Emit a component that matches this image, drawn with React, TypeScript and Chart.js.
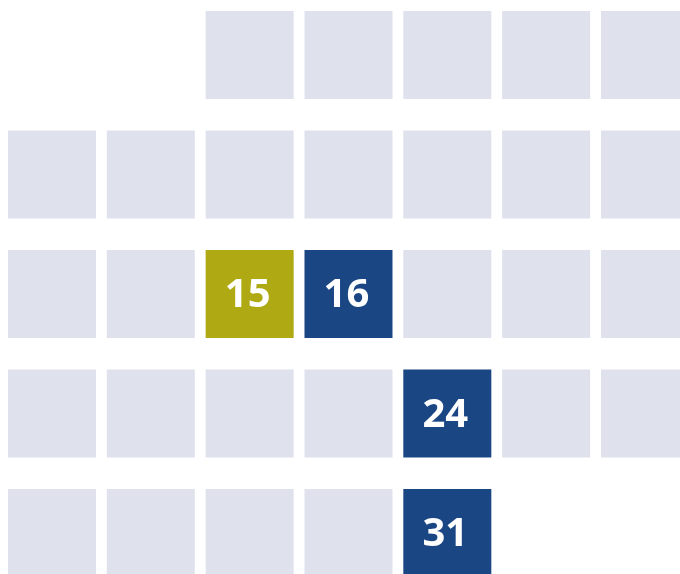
import React, { useEffect, useRef } from "react";
import { Chart, registerables } from "chart.js";

Chart.register(...registerables);

// Calendar month: 31 days, first day falls on the 3rd column
const days: number[] = Array.from({ length: 31 }, (_, i) => i + 1);
const firstWeekdayOffset = 2;
const highlightDays: number[] = [15, 16, 24, 31];
const highlightColors: string[] = ["#afa914", "#1a4683", "#1a4683", "#1a4683"];
const baseColor = "#dfe2ed";

const COLS = 7;

export default function App() {
  const ref = useRef<HTMLCanvasElement | null>(null);

  useEffect(() => {
    if (!ref.current) return;
    document.documentElement.style.overflow = "hidden";
    const points = days.map((d) => {
      const idx = d - 1 + firstWeekdayOffset;
      return { x: idx % COLS, y: Math.floor(idx / COLS), day: d };
    });
    const colors = days.map((d) => {
      const k = highlightDays.indexOf(d);
      return k >= 0 ? highlightColors[k] : baseColor;
    });

    const labelPlugin = {
      id: "dayLabels",
      afterDatasetsDraw(chart: any) {
        const ctx = chart.ctx;
        const meta = chart.getDatasetMeta(0);
        ctx.save();
        ctx.fillStyle = "#ffffff";
        ctx.font = "bold 40px 'Noto Sans', 'Open Sans', sans-serif";
        ctx.textAlign = "center";
        ctx.textBaseline = "middle";
        meta.data.forEach((el: any, i: number) => {
          const d = days[i];
          if (highlightDays.indexOf(d) >= 0) {
            ctx.fillText(String(d), el.x - 2, el.y + 2);
          }
        });
        ctx.restore();
      },
    };

    const side = 88;
    const radius = side / Math.SQRT2;

    const chart = new Chart(ref.current, {
      type: "scatter",
      data: {
        datasets: [
          {
            data: points,
            pointStyle: "rect",
            pointRadius: radius,
            pointHoverRadius: radius,
            pointBackgroundColor: colors,
            pointHoverBackgroundColor: colors,
            pointBorderWidth: 0,
            pointHoverBorderWidth: 0,
            borderWidth: 0,
            clip: false,
          } as any,
        ],
      },
      options: {
        animation: false,
        responsive: false,
        devicePixelRatio: 1,
        layout: { padding: 0, autoPadding: false },
        plugins: { legend: { display: false }, tooltip: { enabled: false } },
        scales: {
          x: { type: "linear", display: false, min: -0.4452, max: 6.4353 },
          y: { type: "linear", display: false, reverse: true, min: -0.3933, max: 4.41 },
        },
      },
      plugins: [labelPlugin],
    });
    return () => chart.destroy();
  }, []);

  return (
    <div style={{ width: 664, height: 558 }}>
      <div style={{ position: "fixed", left: 8, top: 8, width: 680, height: 574 }}>
        <canvas ref={ref} width={680} height={574} style={{ display: "block" }} />
      </div>
    </div>
  );
}
